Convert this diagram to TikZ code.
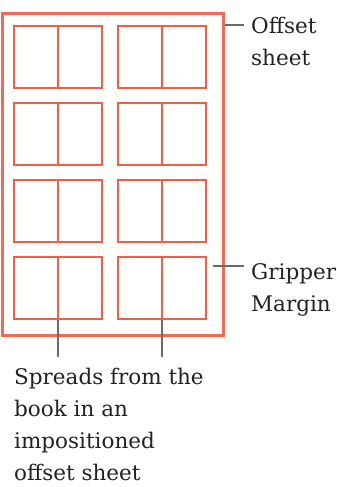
\documentclass[tikz,border=0pt]{standalone}
\usepackage{fontspec}
\setmainfont{DejaVu Serif}
\definecolor{spreadred}{HTML}{EE5F4A}
\definecolor{sheetred}{HTML}{F26A55}
\definecolor{leadergray}{HTML}{6A6A6A}
\definecolor{labelink}{HTML}{222222}
\begin{document}
\begin{tikzpicture}[x=1pt,y=-1pt,
  spread/.style={draw=spreadred, line width=2.8pt, minimum width=88pt, minimum height=62pt, inner sep=0pt},
  sheet/.style={draw=sheetred, line width=2.8pt, inner sep=0pt},
  leader/.style={draw=leadergray, line width=2.2pt},
  label/.style={text=labelink, font=\fontsize{21.5}{32}\selectfont, align=left, inner sep=0pt, anchor=north west}]
\useasboundingbox (0,0) rectangle (337,487);
% offset sheet
\node[sheet, minimum width=221pt, minimum height=322pt, anchor=north west] (sheet) at (1,12) {};
% spreads: two columns, four rows
\foreach \r/\y in {1/57,2/134,3/211,4/288}{
  \foreach \c/\x in {1/58,2/162}{
    \node[spread] (s\r\c) at (\x,\y) {};
    \draw[spreadred, line width=2.8pt] (s\r\c.north) -- (s\r\c.south);
  }
}
% labels
\node[label] (lsheet) at (251,17) {Offset\\sheet};
\node[label] (lgrip) at (251,263) {Gripper\\Margin};
\node[label] (lspread) at (14,368) {Spreads from the\\book in an\\impositioned\\offset sheet};
% leader lines
\coordinate (csheet) at (244,25);
\coordinate (cgrip) at (244,266);
\draw[leader] (sheet.east |- csheet) -- (csheet);
\draw[leader] (213,266) -- (cgrip);
\coordinate (cs1) at (58,357);
\coordinate (cs2) at (162,357);
\draw[leader] (s41.south) -- (cs1);
\draw[leader] (s42.south) -- (cs2);
\end{tikzpicture}
\end{document}
